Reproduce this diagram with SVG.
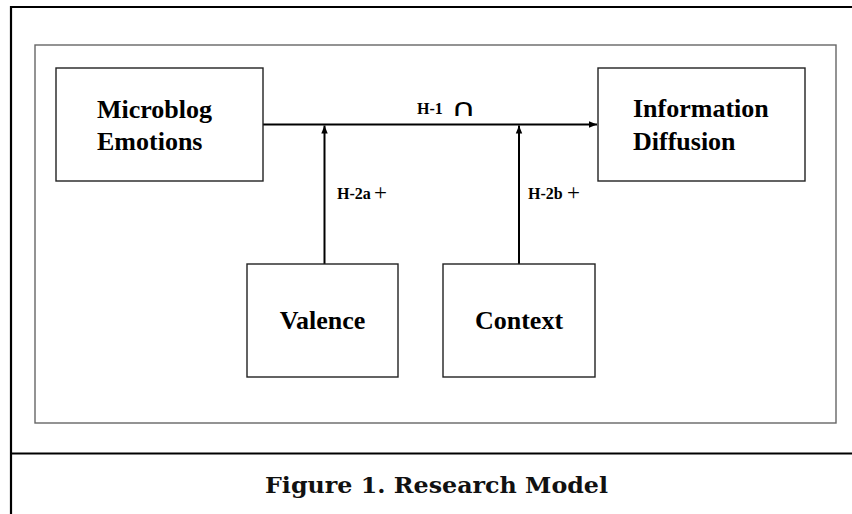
<svg xmlns="http://www.w3.org/2000/svg" width="852" height="514" viewBox="0 0 852 514">
  <style>
    .frame { fill: none; stroke: #000; stroke-width: 2.2; }
    .panel { fill: none; stroke: #666; stroke-width: 1.4; }
    .box { fill: #fff; stroke: #222; stroke-width: 1.4; }
    .label { font-family: "Liberation Serif", "Times New Roman", serif; font-weight: bold; font-size: 26px; fill: #000; }
    .hyp { font-family: "Liberation Serif", "Times New Roman", serif; font-weight: bold; font-size: 16px; fill: #000; }
    .sign { font-family: "Liberation Serif", "Times New Roman", serif; font-weight: normal; font-size: 23px; fill: #000; }
    .link { fill: none; stroke: #000; stroke-width: 2; }
    .caption { font-family: "DejaVu Serif", "Liberation Serif", serif; font-weight: bold; font-size: 22px; fill: #111; }
  </style>
  <defs>
    <marker id="arrow" markerWidth="8" markerHeight="8" refX="8" refY="4" orient="auto" markerUnits="userSpaceOnUse">
      <path d="M0,0.8 L8,4 L0,7.2 Z" fill="#000"/>
    </marker>
  </defs>

  <rect width="852" height="514" fill="#fff"/>

  <!-- page frame and caption divider -->
  <g id="frame">
    <path class="frame" d="M852,7 H11 V514"/>
    <line class="frame" x1="11" y1="453.5" x2="852" y2="453.5"/>
    <rect class="panel" x="35" y="45" width="801" height="378"/>
  </g>

  <!-- connectors -->
  <g id="connectors">
    <line class="link" x1="263" y1="124.5" x2="597" y2="124.5" marker-end="url(#arrow)"/>
    <line class="link" x1="324.5" y1="264" x2="324.5" y2="125.5" marker-end="url(#arrow)"/>
    <line class="link" x1="519" y1="264" x2="519" y2="125.5" marker-end="url(#arrow)"/>
    <g id="h1">
      <text class="hyp" x="417" y="114">H-1</text>
      <text transform="translate(451,115.5) scale(1.45,1)" font-family="DejaVu Sans, sans-serif" font-size="24px" fill="#000">∩</text>
    </g>
    <g id="h2a">
      <text class="hyp" x="337" y="199">H-2a</text>
      <text class="sign" x="374" y="199.5">+</text>
    </g>
    <g id="h2b">
      <text class="hyp" x="528" y="199">H-2b</text>
      <text class="sign" x="567" y="199.5">+</text>
    </g>
  </g>

  <g id="microblog-emotions">
    <rect class="box" x="56" y="68" width="207" height="113"/>
    <text class="label" x="97" y="118">Microblog</text>
    <text class="label" x="97" y="150">Emotions</text>
  </g>

  <g id="information-diffusion">
    <rect class="box" x="598" y="68" width="207" height="113"/>
    <text class="label" x="633" y="117">Information</text>
    <text class="label" x="633" y="150">Diffusion</text>
  </g>

  <g id="valence">
    <rect class="box" x="247" y="264" width="151" height="113"/>
    <text class="label" x="322.5" y="329" text-anchor="middle">Valence</text>
  </g>

  <g id="context">
    <rect class="box" x="443" y="264" width="152" height="113"/>
    <text class="label" x="519" y="329" text-anchor="middle">Context</text>
  </g>

  <text class="caption" x="436.5" y="493" text-anchor="middle" textLength="343" lengthAdjust="spacingAndGlyphs">Figure 1. Research Model</text>
</svg>
